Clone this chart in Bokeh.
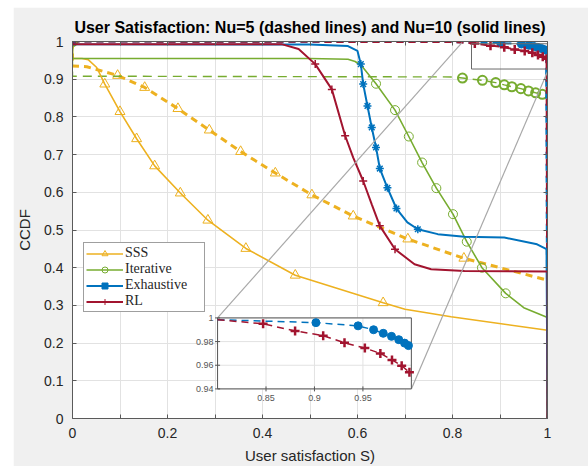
from bokeh.plotting import figure
from bokeh.models import Range1d, FixedTicker, LinearAxis, Legend, LegendItem, CustomJSTickFormatter
from bokeh.core.properties import value
from bokeh.embed import file_html
from bokeh.resources import INLINE

# ---------------- data ----------------
TITLE = "User Satisfaction: Nu=5 (dashed lines) and Nu=10 (solid lines)"
X_LABEL = "User satisfaction S)"
Y_LABEL = "CCDF"
series_names = ["SSS", "Iterative", "Exhaustive", "RL"]

x_ticks = [0, 0.2, 0.4, 0.6, 0.8, 1]
x_tick_labels = ["0", "0.2", "0.4", "0.6", "0.8", "1"]
x_minor_ticks = [0.1, 0.3, 0.5, 0.7, 0.9]
y_ticks = [0, 0.1, 0.2, 0.3, 0.4, 0.5, 0.6, 0.7, 0.8, 0.9, 1]
y_tick_labels = ["0", "0.1", "0.2", "0.3", "0.4", "0.5", "0.6", "0.7", "0.8", "0.9", "1"]

inset_x_range = [0.8, 1.0]
inset_y_range = [0.94, 1.0]
inset_x_ticks = [0.85, 0.9, 0.95]
inset_x_labels = ["0.85", "0.9", "0.95"]
inset_y_ticks = [0.94, 0.96, 0.98, 1.0]
inset_y_labels = ["0.94", "0.96", "0.98", "1"]

# SSS, Nu=10 (solid)
sss10_x = [0, 0, 0.02, 0.033, 0.051, 0.068, 0.100, 0.135, 0.173, 0.227, 0.285, 0.365, 0.469, 0.654, 0.700, 0.797, 1.0, 1.0]
sss10_y = [1.0, 0.955, 0.955, 0.952, 0.931, 0.887, 0.814, 0.742, 0.670, 0.598, 0.526, 0.451, 0.380, 0.307, 0.290, 0.270, 0.234, 0.0]
sss10_mx = [0, 0.068, 0.100, 0.135, 0.173, 0.227, 0.285, 0.365, 0.469, 0.654]
sss10_my = [1.0, 0.887, 0.814, 0.742, 0.670, 0.598, 0.526, 0.451, 0.380, 0.307]
# SSS, Nu=5 (dashed)
sss5_x = [0, 0, 0.03, 0.095, 0.152, 0.222, 0.288, 0.354, 0.427, 0.504, 0.591, 0.706, 0.824, 1.0, 1.0]
sss5_y = [1.0, 0.935, 0.933, 0.910, 0.878, 0.822, 0.765, 0.708, 0.651, 0.593, 0.537, 0.476, 0.425, 0.367, 0.0]
sss5_mx = [0, 0.095, 0.152, 0.222, 0.288, 0.354, 0.427, 0.504, 0.591, 0.706, 0.824]
sss5_my = [1.0, 0.910, 0.878, 0.822, 0.765, 0.708, 0.651, 0.593, 0.537, 0.476, 0.425]

# Iterative, Nu=10 (solid)
iter10_x = [0, 0, 0.50, 0.58, 0.595, 0.609, 0.639, 0.679, 0.708, 0.736, 0.766, 0.801, 0.830, 0.862, 0.912, 0.950, 1.0, 1.0]
iter10_y = [1.0, 0.955, 0.955, 0.953, 0.947, 0.935, 0.888, 0.818, 0.748, 0.679, 0.611, 0.542, 0.469, 0.400, 0.332, 0.294, 0.268, 0.0]
iter10_mx = [0, 0.639, 0.679, 0.708, 0.736, 0.766, 0.801, 0.830, 0.862, 0.912]
iter10_my = [1.0, 0.888, 0.818, 0.748, 0.679, 0.611, 0.542, 0.469, 0.400, 0.332]
# Iterative, Nu=5 (dashed)
iter5_x = [0, 0, 0.80, 0.821, 0.863, 0.891, 0.909, 0.925, 0.944, 0.960, 0.975, 0.989, 1.0, 1.0]
iter5_y = [1.0, 0.908, 0.906, 0.903, 0.897, 0.891, 0.885, 0.880, 0.875, 0.869, 0.864, 0.860, 0.857, 0.0]
iter5_mx = [0, 0.821, 0.863, 0.891, 0.909, 0.925, 0.944, 0.960, 0.975, 0.989]
iter5_my = [1.0, 0.903, 0.897, 0.891, 0.885, 0.880, 0.875, 0.869, 0.864, 0.860]

# Exhaustive, Nu=10 (solid)
exh10_x = [0, 0, 0.50, 0.58, 0.600, 0.607, 0.612, 0.621, 0.630, 0.639, 0.647, 0.663, 0.682, 0.705, 0.727, 0.769, 0.825, 0.909, 0.978, 0.998, 1.0]
exh10_y = [1.0, 0.993, 0.992, 0.988, 0.975, 0.940, 0.887, 0.829, 0.772, 0.719, 0.663, 0.612, 0.557, 0.520, 0.502, 0.489, 0.482, 0.480, 0.462, 0.449, 0.0]
exh10_mx = [0, 0.607, 0.612, 0.621, 0.630, 0.639, 0.647, 0.663, 0.682, 0.727]
exh10_my = [1.0, 0.940, 0.887, 0.829, 0.772, 0.719, 0.663, 0.612, 0.557, 0.502]
# Exhaustive, Nu=5 (dashed)
exh5_x = [0, 0.80, 0.9015, 0.945, 0.961, 0.971, 0.9795, 0.987, 0.993, 0.997, 1.0]
exh5_y = [1.0, 0.9985, 0.996, 0.9933, 0.990, 0.987, 0.9844, 0.9816, 0.9787, 0.9766, 0.0]
exh5_mx = [0, 0.9015, 0.945, 0.961, 0.971, 0.9795, 0.987, 0.993, 0.997]
exh5_my = [1.0, 0.996, 0.9933, 0.990, 0.987, 0.9844, 0.9816, 0.9787, 0.9766]

# RL, Nu=10 (solid)
rl10_x = [0, 0, 0.44, 0.476, 0.511, 0.546, 0.574, 0.591, 0.612, 0.630, 0.647, 0.679, 0.720, 0.755, 0.825, 1.0, 1.0]
rl10_y = [1.0, 0.993, 0.993, 0.980, 0.940, 0.873, 0.750, 0.692, 0.630, 0.568, 0.511, 0.449, 0.409, 0.396, 0.391, 0.390, 0.0]
rl10_mx = [0, 0.511, 0.546, 0.574, 0.612, 0.647, 0.679]
rl10_my = [1.0, 0.940, 0.873, 0.750, 0.630, 0.511, 0.449]
# RL, Nu=5 (dashed)
rl5_x = [0, 0.80, 0.847, 0.880, 0.909, 0.931, 0.952, 0.968, 0.980, 0.990, 0.998, 1.0]
rl5_y = [1.0, 0.9985, 0.995, 0.989, 0.985, 0.979, 0.9745, 0.970, 0.9645, 0.9596, 0.954, 0.0]
rl5_mx = [0, 0.847, 0.880, 0.909, 0.931, 0.952, 0.968, 0.980, 0.990, 0.998]
rl5_my = [1.0, 0.995, 0.989, 0.985, 0.979, 0.9745, 0.970, 0.9645, 0.9596, 0.954]

# ---------------- style / layout ----------------
YELLOW = "#EDB120"
GREEN = "#77AC30"
BLUE = "#0072BD"
RED = "#A2142F"
AXC = "#5a5a5a"
GRID = "#e2e2e2"
TXT = "#262626"
FONT = "Liberation Sans"

INSET_BOX = (0.3054, 0.7134, 0.0785, 0.2668)   # left, right, bottom, top (main-axes units)
ZOOM_BOX = (0.84, 1.008, 0.927, 0.994)
LINK_END = ([0.82, 1.0], [0.997, 0.92])

p = figure(width=575, height=459, margin=(7, 0, 0, 13),
           x_range=Range1d(0, 1), y_range=Range1d(0, 1),
           output_backend="svg", toolbar_location=None,
           min_border_left=56, min_border_right=41, min_border_top=34, min_border_bottom=48,
           background_fill_color="white", border_fill_color="#f0f0f0")
p.outline_line_color = None

p.title.text = TITLE
p.title.align = "center"
p.title.text_font = FONT
p.title.text_font_size = "16px"
p.title.text_font_style = "bold"
p.title.text_color = "black"
p.title.standoff = 11

xt = FixedTicker(ticks=x_ticks, minor_ticks=x_minor_ticks)
yt = FixedTicker(ticks=y_ticks, minor_ticks=[])
p.xaxis.ticker = xt
p.yaxis.ticker = yt
p.xgrid.ticker = xt
p.ygrid.ticker = yt
p.xaxis.major_label_overrides = dict(zip(x_ticks, x_tick_labels))
p.yaxis.major_label_overrides = dict(zip(y_ticks, y_tick_labels))
p.xaxis.axis_label = X_LABEL
p.yaxis.axis_label = Y_LABEL

def style_axis(ax):
    ax.axis_line_color = AXC
    ax.major_tick_line_color = AXC
    ax.minor_tick_line_color = AXC
    ax.major_tick_in = 4
    ax.major_tick_out = 0
    ax.minor_tick_in = 4
    ax.minor_tick_out = 0
    ax.major_label_text_font = FONT
    ax.major_label_text_font_size = "14px"
    ax.major_label_text_color = TXT
    ax.axis_label_text_font = FONT
    ax.axis_label_text_font_size = "15px"
    ax.axis_label_text_font_style = "normal"
    ax.axis_label_text_color = TXT

for ax in p.xaxis + p.yaxis:
    style_axis(ax)
p.xaxis.major_label_standoff = 9
p.yaxis.major_label_standoff = 9
p.xaxis.axis_label_standoff = 6
p.yaxis.axis_label_standoff = 8

for side, tk in (("right", yt), ("above", xt)):
    ax = LinearAxis(ticker=tk, formatter=CustomJSTickFormatter(code="return ''"))
    style_axis(ax)
    ax.major_label_text_font_size = "1px"
    ax.major_label_standoff = 0
    p.add_layout(ax, side)

p.xgrid.grid_line_color = GRID
p.xgrid.minor_grid_line_color = GRID
p.ygrid.grid_line_color = GRID

# ---------------- curves ----------------
def curve(target, xs, ys, color, width, dash, mx, my, marker, msize, fill, mlw):
    r = target.line(xs, ys, line_color=color, line_width=width, line_dash=dash)
    m = target.scatter(mx, my, marker=marker, size=msize, line_color=color,
                       fill_color=fill, line_width=mlw)
    return r, m

curve(p, sss5_x, sss5_y, YELLOW, 3, "7 5", sss5_mx, sss5_my, "triangle", 10, None, 1)
curve(p, iter5_x, iter5_y, GREEN, 1.4, "9 6", iter5_mx, iter5_my, "circle", 9, None, 2)
curve(p, exh5_x, exh5_y, BLUE, 2, "7 5", exh5_mx, exh5_my, "circle", 8, BLUE, 1)
curve(p, rl5_x, rl5_y, RED, 2, "7 5", rl5_mx, rl5_my, "cross", 9, None, 2.5)

r_sss, _ = curve(p, sss10_x, sss10_y, YELLOW, 1.6, "solid", sss10_mx, sss10_my, "triangle", 10, None, 1)
r_iter, _ = curve(p, iter10_x, iter10_y, GREEN, 1.6, "solid", iter10_mx, iter10_my, "circle", 9, None, 1)
r_exh, _ = curve(p, exh10_x, exh10_y, BLUE, 2, "solid", exh10_mx, exh10_my, "asterisk", 8, None, 1.5)
r_rl, _ = curve(p, rl10_x, rl10_y, RED, 2, "solid", rl10_mx, rl10_my, "cross", 8, None, 1.5)

# zoom indicator box and links
p.quad(left=ZOOM_BOX[0], right=ZOOM_BOX[1], bottom=ZOOM_BOX[2], top=ZOOM_BOX[3],
       fill_color=None, line_color="#6a6a6a", line_width=1)
p.segment(x0=[INSET_BOX[0], INSET_BOX[1]], y0=[INSET_BOX[3], INSET_BOX[2]],
          x1=LINK_END[0], y1=LINK_END[1], line_color="#a8a8a8", line_width=1.2)

# ---------------- inset ----------------
ix0, ix1 = inset_x_range
iy0, iy1 = inset_y_range
sub = p.subplot(x_source=Range1d(ix0, ix1), y_source=Range1d(iy0, iy1),
                x_target=Range1d(INSET_BOX[0], INSET_BOX[1]),
                y_target=Range1d(INSET_BOX[2], INSET_BOX[3]))
sub.quad(left=ix0, right=ix1, bottom=iy0, top=iy1, fill_color="white", line_color=None)
sub.segment(x0=inset_x_ticks, y0=[iy0] * len(inset_x_ticks), x1=inset_x_ticks,
            y1=[iy1] * len(inset_x_ticks), line_color=GRID, line_width=1)
sub.segment(x0=[ix0] * len(inset_y_ticks), y0=inset_y_ticks, x1=[ix1] * len(inset_y_ticks),
            y1=inset_y_ticks, line_color=GRID, line_width=1)
sub.quad(left=ix0, right=ix1, bottom=iy0, top=iy1, fill_color=None, line_color="#555555", line_width=1)

def in_inset(xs, ys):
    pts = [(a, b) for a, b in zip(xs, ys) if ix0 <= a <= ix1 and iy0 <= b <= iy1]
    return [a for a, _ in pts], [b for _, b in pts]

ex, ey = in_inset(exh5_x, exh5_y)
emx, emy = in_inset(exh5_mx, exh5_my)
rx, ry = in_inset(rl5_x, rl5_y)
rmx, rmy = in_inset(rl5_mx, rl5_my)
curve(sub, ex, ey, BLUE, 1.5, "7 5", emx, emy, "circle", 8, BLUE, 1)
curve(sub, rx, ry, RED, 1.5, "7 5", rmx, rmy, "cross", 9, None, 2.5)

sub.scatter(x=[ix0] * len(inset_y_ticks), y=inset_y_ticks, marker="dash", size=5, line_color="#555555")
sub.scatter(x=inset_x_ticks, y=[iy0] * len(inset_x_ticks), marker="dash", angle=1.5708,
            size=5, line_color="#555555")
sub.text(x=[ix0] * len(inset_y_ticks), y=inset_y_ticks, text=inset_y_labels, x_offset=-4,
         text_align="right", text_baseline="middle", text_font=value(FONT),
         text_font_size="9px", text_color="#555555")
sub.text(x=inset_x_ticks, y=[iy0] * len(inset_x_ticks), text=inset_x_labels, y_offset=6,
         text_align="center", text_baseline="top", text_font=value(FONT),
         text_font_size="9px", text_color="#555555")

# ---------------- legend ----------------
NAN = float("nan")
leg_sss = p.scatter(x=[NAN], y=[NAN], marker="triangle", line_color=YELLOW, fill_color=None, size=7)
leg_iter = p.scatter(x=[NAN], y=[NAN], marker="circle", line_color=GREEN, fill_color=None, size=6)
leg_exh = p.scatter(x=[NAN], y=[NAN], marker="square", line_color=BLUE, fill_color=BLUE, size=5)
leg_rl = p.scatter(x=[NAN], y=[NAN], marker="cross", line_color=RED, size=6)

legend = Legend(items=[
    LegendItem(label=series_names[0], renderers=[r_sss, leg_sss]),
    LegendItem(label=series_names[1], renderers=[r_iter, leg_iter]),
    LegendItem(label=series_names[2], renderers=[r_exh, leg_exh]),
    LegendItem(label=series_names[3], renderers=[r_rl, leg_rl]),
], location=(11, 106))
legend.label_text_font = "Liberation Serif"
legend.label_text_font_size = "14px"
legend.label_text_color = TXT
legend.glyph_width = 37
legend.glyph_height = 15
legend.label_height = 15
legend.label_width = 77
legend.spacing = -1
legend.padding = 2
legend.margin = 0
legend.label_standoff = 2
legend.border_line_color = "#404040"
legend.border_line_width = 1
legend.background_fill_color = "white"
legend.background_fill_alpha = 1
p.add_layout(legend)

open("out.html", "w").write(file_html(p, INLINE))
